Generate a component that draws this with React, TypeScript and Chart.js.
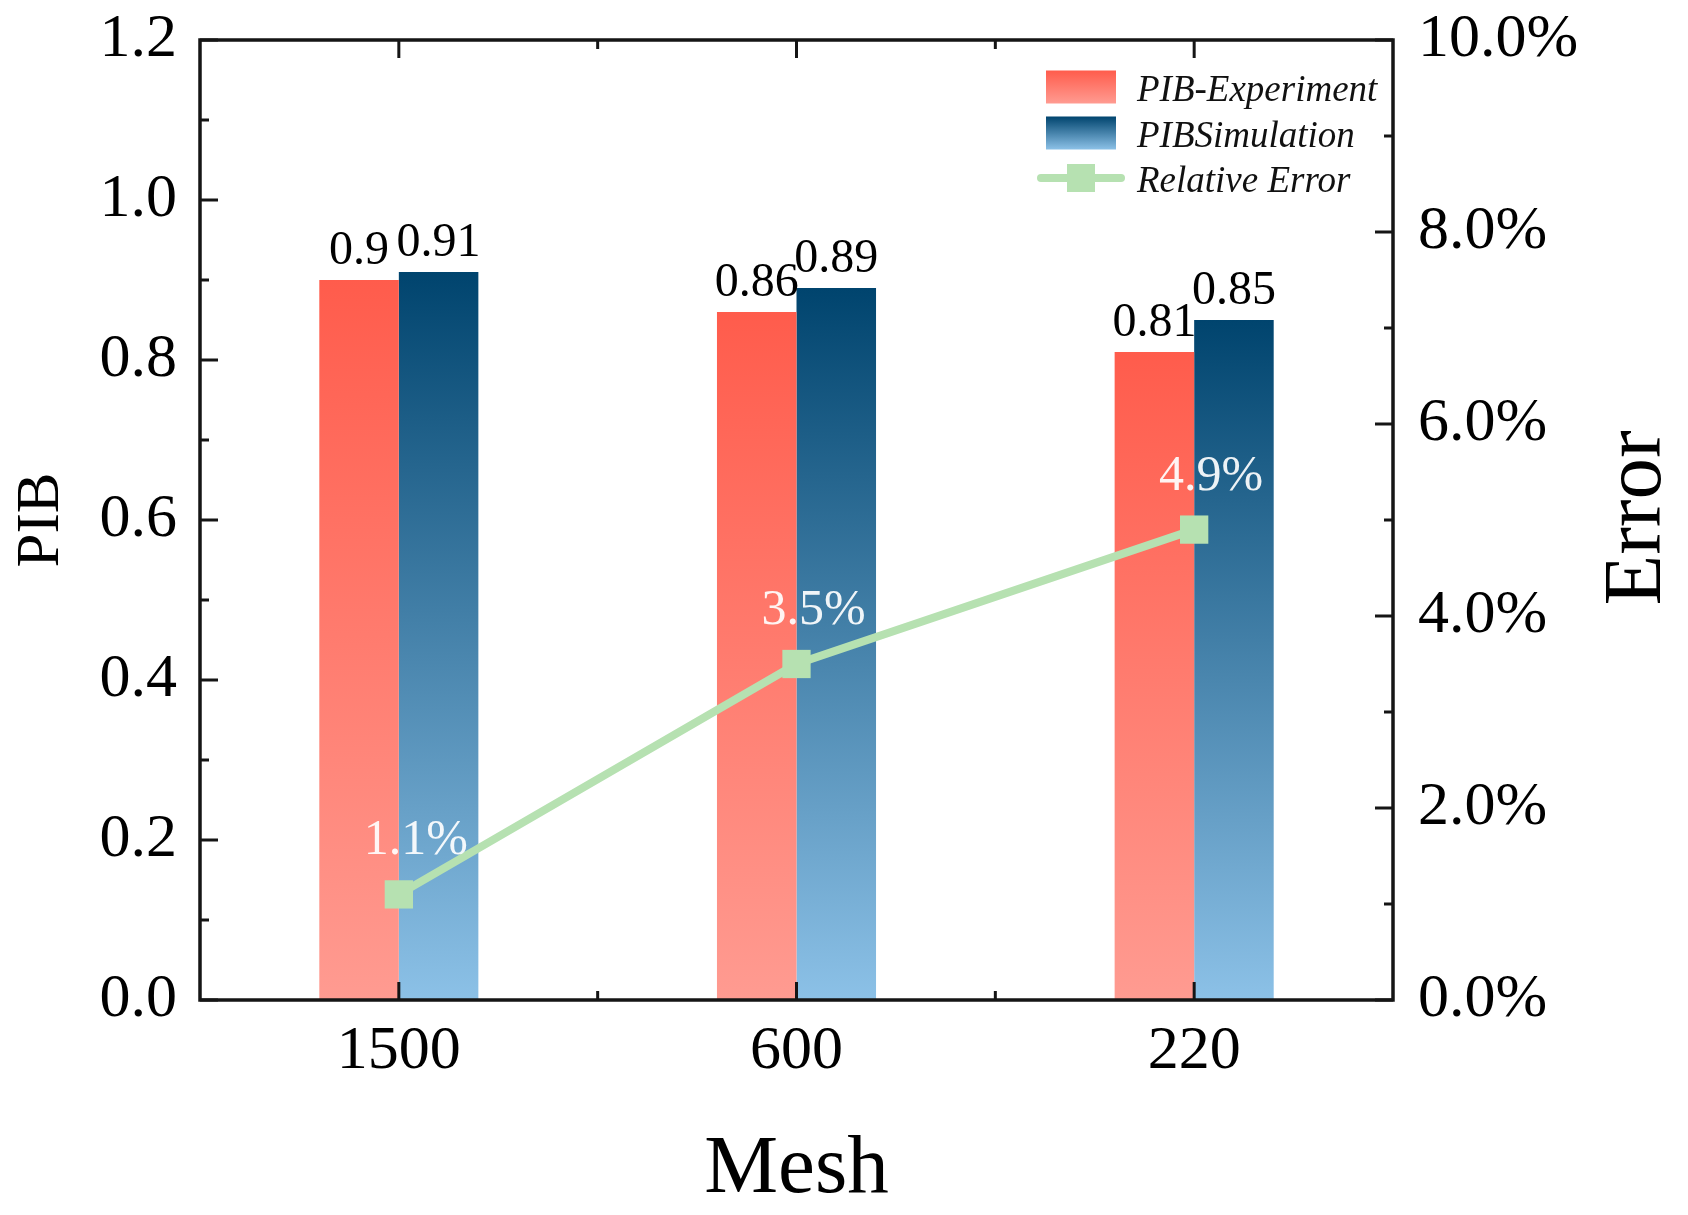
import React, { useEffect, useRef } from 'react';
import { Chart, registerables } from 'chart.js';

Chart.register(...registerables);

// ---- data ----
const categories = ['1500', '600', '220'];
const pibExperiment = [0.9, 0.86, 0.81];
const pibSimulation = [0.91, 0.89, 0.85];
const relativeError = [1.1, 3.5, 4.9];
const leftTicks = [0, 0.2, 0.4, 0.6, 0.8, 1.0, 1.2];
const rightTicks = [0, 2, 4, 6, 8, 10];
const seriesNames = ['PIB-Experiment', 'PIBSimulation', 'Relative Error'];
const xTitle = 'Mesh';
const yTitle = 'PIB';
const y1Title = 'Error';

// ---- styles ----
const FONT = "'Liberation Serif', 'Times New Roman', serif";
const RED_TOP = '#ff5c4c';
const RED_BOT = '#ff9b91';
const BLUE_TOP = '#00446e';
const BLUE_BOT = '#8cc1e7';
const GREEN = '#b6e1b1';
const AXIS = '#151515';

function vGrad(ctx: CanvasRenderingContext2D, top: number, bottom: number, c1: string, c2: string) {
  const g = ctx.createLinearGradient(0, top, 0, bottom);
  g.addColorStop(0, c1);
  g.addColorStop(1, c2);
  return g;
}

function barFill(c1: string, c2: string) {
  return (c: any) => {
    const chart = c.chart;
    const area = chart.chartArea;
    if (!area || c.type !== 'data') return c1;
    const yTop = chart.scales.y.getPixelForValue(c.raw as number);
    return vGrad(chart.ctx, yTop, area.bottom, c1, c2);
  };
}

const decorPlugin = {
  id: 'decor',
  afterDatasetsDraw(chart: any) {
    const { ctx, chartArea: a, scales } = chart;
    const y = scales.y;
    const y1 = scales.y1;
    const x = scales.x;
    ctx.save();

    // frame
    ctx.strokeStyle = AXIS;
    ctx.lineWidth = 3.5;
    ctx.strokeRect(a.left, a.top, a.right - a.left, a.bottom - a.top);

    // ticks (inward)
    ctx.lineWidth = 3;
    const seg = (x1: number, yy1: number, x2: number, yy2: number) => {
      ctx.beginPath();
      ctx.moveTo(x1, yy1);
      ctx.lineTo(x2, yy2);
      ctx.stroke();
    };
    const MAJ = 18;
    const MIN = 9;
    leftTicks.forEach((v, i) => {
      const py = y.getPixelForValue(v);
      seg(a.left, py, a.left + MAJ, py);
      if (i < leftTicks.length - 1) {
        const pm = y.getPixelForValue((v + leftTicks[i + 1]) / 2);
        seg(a.left, pm, a.left + MIN, pm);
      }
    });
    rightTicks.forEach((v, i) => {
      const py = y1.getPixelForValue(v);
      seg(a.right, py, a.right - MAJ, py);
      if (i < rightTicks.length - 1) {
        const pm = y1.getPixelForValue((v + rightTicks[i + 1]) / 2);
        seg(a.right, pm, a.right - MIN, pm);
      }
    });
    categories.forEach((_, i) => {
      const px = x.getPixelForValue(i);
      seg(px, a.bottom, px, a.bottom - MAJ);
      seg(px, a.top, px, a.top + MAJ);
      if (i < categories.length - 1) {
        const pm = (px + x.getPixelForValue(i + 1)) / 2;
        seg(pm, a.bottom, pm, a.bottom - MIN);
        seg(pm, a.top, pm, a.top + MIN);
      }
    });

    // bar value labels
    ctx.fillStyle = '#000';
    ctx.font = `48px ${FONT}`;
    ctx.textAlign = 'center';
    ctx.textBaseline = 'alphabetic';
    [0, 1].forEach((di) => {
      const meta = chart.getDatasetMeta(di);
      const vals = chart.data.datasets[di].data as number[];
      meta.data.forEach((el: any, i: number) => {
        ctx.fillText(String(vals[i]), el.x, el.y - 16);
      });
    });

    // error labels
    const lm = chart.getDatasetMeta(2);
    ctx.fillStyle = 'rgba(255,255,255,0.92)';
    ctx.font = `50px ${FONT}`;
    lm.data.forEach((el: any, i: number) => {
      ctx.fillText(`${relativeError[i].toFixed(1)}%`, el.x + 17, el.y - 40);
    });

    // axis titles
    ctx.fillStyle = '#000';
    ctx.textBaseline = 'middle';
    ctx.textAlign = 'center';
    ctx.font = `83px ${FONT}`;
    ctx.fillText(xTitle, (a.left + a.right) / 2, 1170);

    ctx.save();
    ctx.translate(42, (a.top + a.bottom) / 2);
    ctx.rotate(-Math.PI / 2);
    ctx.font = `61px ${FONT}`;
    ctx.fillText(yTitle, 0, 0);
    ctx.restore();

    ctx.save();
    ctx.translate(1638, (a.top + a.bottom) / 2 - 2);
    ctx.rotate(-Math.PI / 2);
    ctx.font = `83px ${FONT}`;
    ctx.fillText(y1Title, 0, 0);
    ctx.restore();

    // legend
    const boxL = 1046;
    const boxW = 70;
    const boxH = 33;
    const textX = 1137;
    const rows = [87, 133, 178];
    ctx.font = `italic 37px ${FONT}`;
    ctx.textAlign = 'left';
    ctx.textBaseline = 'middle';
    const fills = [
      [RED_TOP, RED_BOT],
      [BLUE_TOP, BLUE_BOT],
    ];
    [0, 1].forEach((k) => {
      const cy = rows[k];
      ctx.fillStyle = vGrad(ctx, cy - boxH / 2, cy + boxH / 2, fills[k][0], fills[k][1]);
      ctx.fillRect(boxL, cy - boxH / 2, boxW, boxH);
    });
    const cy3 = rows[2];
    ctx.strokeStyle = GREEN;
    ctx.lineWidth = 8;
    ctx.lineCap = 'round';
    seg(1041, cy3, 1121, cy3);
    ctx.fillStyle = GREEN;
    ctx.fillRect(1067, cy3 - 14, 28, 28);
    ctx.fillStyle = '#111';
    chart.data.datasets.forEach((ds: any, k: number) => {
      ctx.fillText(ds.label, textX, rows[k] + 4);
    });

    ctx.restore();
  },
};

export default function App() {
  const ref = useRef<HTMLCanvasElement | null>(null);

  useEffect(() => {
    if (!ref.current) return;
    const chart = new Chart(ref.current, {
      type: 'bar',
      data: {
        labels: categories,
        datasets: [
          {
            type: 'bar',
            label: seriesNames[0],
            data: pibExperiment,
            backgroundColor: barFill(RED_TOP, RED_BOT),
            borderWidth: 0,
            yAxisID: 'y',
            order: 1,
            categoryPercentage: 0.4,
            barPercentage: 1.0,
          } as any,
          {
            type: 'bar',
            label: seriesNames[1],
            data: pibSimulation,
            backgroundColor: barFill(BLUE_TOP, BLUE_BOT),
            borderWidth: 0,
            yAxisID: 'y',
            order: 1,
            categoryPercentage: 0.4,
            barPercentage: 1.0,
          } as any,
          {
            type: 'line',
            label: seriesNames[2],
            data: relativeError,
            borderColor: GREEN,
            backgroundColor: GREEN,
            borderWidth: 8,
            pointStyle: 'rect',
            pointRadius: 20,
            pointBackgroundColor: GREEN,
            pointBorderWidth: 0,
            tension: 0,
            yAxisID: 'y1',
            order: 0,
          } as any,
        ],
      },
      options: {
        animation: false,
        responsive: false,
        layout: { padding: { top: 40, left: 0, right: 0, bottom: 0 } },
        plugins: {
          legend: { display: false },
          tooltip: { enabled: false },
        },
        scales: {
          x: {
            type: 'category',
            offset: true,
            grid: { display: false, drawTicks: false },
            border: { display: false },
            ticks: { font: { family: FONT, size: 62 }, color: '#000', padding: 15, maxRotation: 0 },
            afterFit: (s: any) => {
              s.height = 215;
              s.paddingLeft = 0;
              s.paddingRight = 0;
            },
          },
          y: {
            position: 'left',
            min: 0,
            max: 1.2,
            grid: { display: false, drawTicks: false },
            border: { display: false },
            afterBuildTicks: (s: any) => {
              s.ticks = leftTicks.map((v) => ({ value: v }));
            },
            ticks: {
              font: { family: FONT, size: 62 },
              color: '#000',
              padding: 23,
              callback: (v: any) => Number(v).toFixed(1),
            },
            afterFit: (s: any) => {
              s.width = 200;
              s.paddingTop = 0;
              s.paddingBottom = 0;
            },
          },
          y1: {
            position: 'right',
            min: 0,
            max: 10,
            grid: { display: false, drawTicks: false, drawOnChartArea: false },
            border: { display: false },
            afterBuildTicks: (s: any) => {
              s.ticks = rightTicks.map((v) => ({ value: v }));
            },
            ticks: {
              font: { family: FONT, size: 62 },
              color: '#000',
              padding: 25,
              callback: (v: any) => `${Number(v).toFixed(1)}%`,
            },
            afterFit: (s: any) => {
              s.width = 295;
              s.paddingTop = 0;
              s.paddingBottom = 0;
            },
          },
        },
      } as any,
      plugins: [decorPlugin],
    });
    return () => chart.destroy();
  }, []);

  return (
    <div style={{ position: 'fixed', left: 0, top: 0, width: 1688, height: 1215, background: '#fff' }}>
      <canvas ref={ref} width={1688} height={1215} style={{ width: 1688, height: 1215, display: 'block' }} />
    </div>
  );
}
